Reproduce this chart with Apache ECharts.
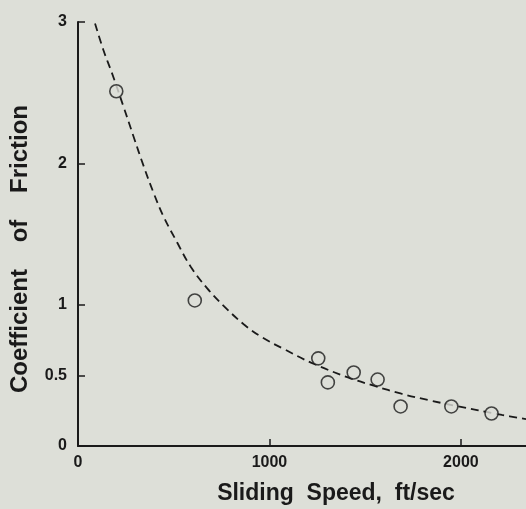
<!DOCTYPE html>
<html>
<head>
    <meta charset="utf-8" />
    <title>Coefficient of Friction vs Sliding Speed</title>
    <script src="https://cdn.jsdelivr.net/npm/echarts@6/dist/echarts.min.js"></script>
    <style>
        html, body { margin: 0; padding: 0; background: #dddfd8; }
        #chart { width: 526px; height: 509px; }
    </style>
</head>
<body>
    <div id="chart"></div>
    <script>
        // measured points (ft/sec, coefficient)
        var speeds = [200, 610, 1255, 1305, 1440, 1565, 1685, 1950, 2160];
        var friction = [2.51, 1.03, 0.62, 0.45, 0.52, 0.47, 0.28, 0.28, 0.23];

        // dashed trend curve
        var curveX = [89, 133, 177, 238, 290, 343, 395, 448, 518, 588, 675, 762, 867, 960, 1077, 1217, 1410, 1549, 1689, 1829, 1969, 2214, 2340];
        var curveY = [2.99, 2.80, 2.64, 2.40, 2.19, 1.98, 1.79, 1.62, 1.44, 1.27, 1.115, 0.99, 0.86, 0.77, 0.685, 0.59, 0.485, 0.425, 0.37, 0.325, 0.285, 0.22, 0.19];

        var xTicks = [0, 1000, 2000];
        var yTicks = [0, 0.5, 1, 2, 3];

        var ink = '#1a1a1a';
        var bg = '#dddfd8';
        var font = 'Liberation Sans';

        var chart = echarts.init(document.getElementById('chart'));

        var points = speeds.map(function (s, i) { return [s, friction[i]]; });
        var curve = curveX.map(function (x, i) { return [x, curveY[i]]; });

        var option = {
            backgroundColor: bg,
            animation: false,
            grid: { left: 78, right: 0, top: 22, bottom: 63, outerBoundsMode: 'none', containLabel: false },
            xAxis: {
                type: 'value',
                min: 0,
                max: 2340,
                splitLine: { show: false },
                axisLine: { lineStyle: { color: ink, width: 2 } },
                axisTick: { inside: true, length: 7, customValues: xTicks, lineStyle: { color: ink, width: 1.5 } },
                axisLabel: {
                    customValues: xTicks, color: ink, fontFamily: font, fontWeight: 'bold', fontSize: 16, margin: 9,
                    formatter: function (v) { return String(v); }
                },
                name: 'Sliding  Speed,  ft/sec',
                nameLocation: 'middle',
                nameGap: 36,
                nameTextStyle: { color: ink, fontFamily: font, fontWeight: 'bold', fontSize: 23, padding: [0, 0, 0, 68] }
            },
            yAxis: {
                type: 'value',
                min: 0,
                max: 3,
                splitLine: { show: false },
                axisLine: { lineStyle: { color: ink, width: 2 } },
                axisTick: { inside: true, length: 7, customValues: yTicks, lineStyle: { color: ink, width: 1.5 } },
                axisLabel: { customValues: yTicks, color: ink, fontFamily: font, fontWeight: 'bold', fontSize: 16, margin: 11 },
                name: 'Coefficient    of    Friction',
                nameLocation: 'middle',
                nameGap: 46,
                nameTextStyle: { color: ink, fontFamily: font, fontWeight: 'bold', fontSize: 24, padding: [0, 30, 0, 0] }
            },
            series: [
                {
                    type: 'line',
                    data: curve,
                    smooth: 0.4,
                    showSymbol: false,
                    lineStyle: { color: ink, width: 1.8, type: [8, 5] },
                    z: 1
                },
                {
                    type: 'scatter',
                    data: points,
                    symbol: 'circle',
                    symbolSize: 13,
                    itemStyle: { color: bg, borderColor: ink, borderWidth: 1.6 },
                    z: 2
                }
            ]
        };
        chart.setOption(option);
    </script>
</body>
</html>
